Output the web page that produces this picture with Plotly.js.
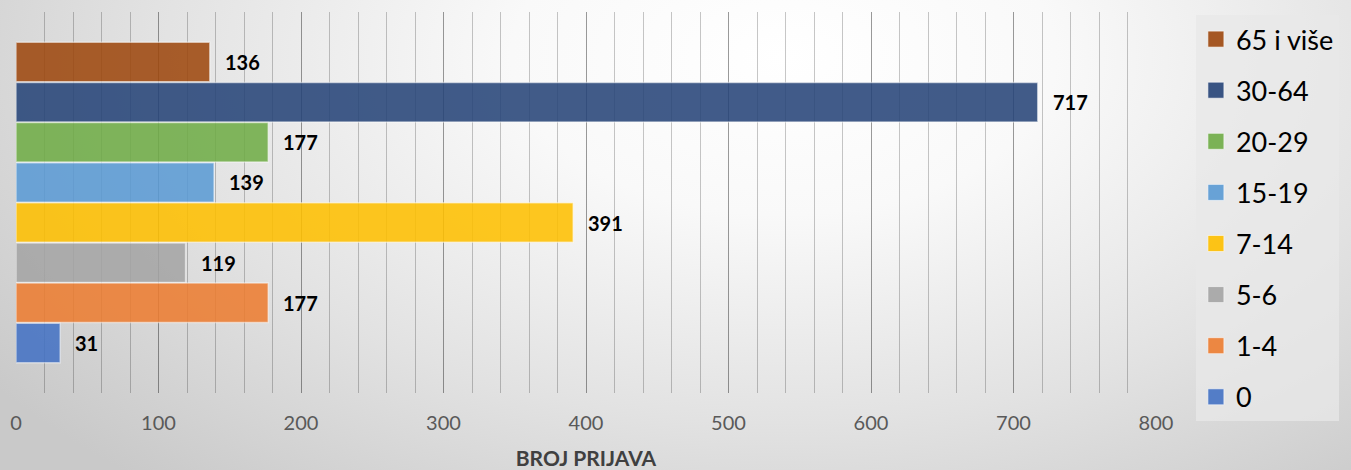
<!DOCTYPE html>
<html>
<head>
<meta charset="utf-8">
<script src="https://cdn.plot.ly/plotly-3.0.1.min.js"></script>
<style>
  html, body { margin: 0; padding: 0; }
  #chart {
    width: 1351px; height: 470px;
    background: radial-gradient(ellipse 72% 120% at 58% 12%, #ffffff 0%, #f9f9f9 28%, #e2e2e2 65%, #c9c9c9 100%);
  }
</style>
</head>
<body>
<div id="chart"></div>
<script>
// Data (top to bottom as drawn, same order as the legend)
const categories = ['65 i više', '30-64', '20-29', '15-19', '7-14', '5-6', '1-4', '0'];
const values = [136, 717, 177, 139, 391, 119, 177, 31];
const colors = ['#9E480E', '#264478', '#70AD47', '#5B9BD5', '#FFC000', '#A5A5A5', '#ED7D31', '#4472C4'];
const xTickValues = [0, 100, 200, 300, 400, 500, 600, 700, 800];
const axisTitle = 'BROJ PRIJAVA';

const FONT = 'Lato, "Open Sans", sans-serif';

const barTraces = categories.map((c, i) => ({
  type: 'bar',
  orientation: 'h',
  name: c,
  legendgroup: 'g' + i,
  showlegend: false,
  x: [values[i]],
  y: [c],
  width: 0.985,
  opacity: 0.87,
  marker: { color: colors[i], line: { color: 'rgba(255,255,255,0.55)', width: 1.5 } },
  hoverinfo: 'x+name'
}));

// legend-only entries with larger square swatches
const legendTraces = categories.map((c, i) => ({
  type: 'scatter',
  mode: 'markers',
  name: c,
  legendgroup: 'g' + i,
  showlegend: true,
  x: [null],
  y: [null],
  marker: { symbol: 'square', size: 16, color: colors[i], opacity: 0.9,
            line: { color: 'rgba(255,255,255,0.6)', width: 1 } },
  hoverinfo: 'skip'
}));

// value labels: y given as the category's index on the category axis
const annotations = categories.map((c, i) => ({
  x: values[i], y: categories.indexOf(c), xref: 'x', yref: 'y',
  text: String(values[i]), showarrow: false,
  xanchor: 'left', yanchor: 'middle', xshift: 13,
  font: { family: FONT, size: 20, color: '#000000', weight: 'bold' }
}));

const layout = {
  width: 1351, height: 470,
  margin: { l: 16, r: 193, t: 12, b: 77 },
  paper_bgcolor: 'rgba(0,0,0,0)',
  plot_bgcolor: 'rgba(0,0,0,0)',
  barmode: 'overlay',
  showlegend: true,
  legend: {
    x: 1.035, xanchor: 'left', y: 0.992, yanchor: 'top',
    traceorder: 'grouped',
    tracegroupgap: 13,
    itemsizing: 'trace',
    maxheight: 460,
    bgcolor: 'rgba(232,232,232,0.75)',
    borderwidth: 0,
    font: { family: FONT, size: 27, color: '#000000' },
    itemclick: false
  },
  xaxis: {
    range: [0, 800],
    tickvals: xTickValues,
    ticktext: xTickValues.map(String),
    showgrid: true, gridcolor: 'rgba(0,0,0,0.22)', gridwidth: 1,
    minor: { dtick: 20, showgrid: true, gridcolor: 'rgba(0,0,0,0.22)', gridwidth: 1 },
    zeroline: false, showline: false, ticks: '',
    ticklabelstandoff: 16,
    tickfont: { family: FONT, size: 20, color: '#595959' },
    title: { text: axisTitle, standoff: 20,
      font: { family: FONT, size: 21, color: '#404040', weight: 'bold' } },
    automargin: false
  },
  yaxis: {
    type: 'category',
    categoryorder: 'array', categoryarray: categories,
    range: [8.248, -1.248],
    showticklabels: false, showgrid: false, zeroline: false, showline: false, ticks: '',
    automargin: false
  },
  annotations: annotations
};

Plotly.newPlot('chart', barTraces.concat(legendTraces), layout, { displayModeBar: false, staticPlot: true });
</script>
</body>
</html>
